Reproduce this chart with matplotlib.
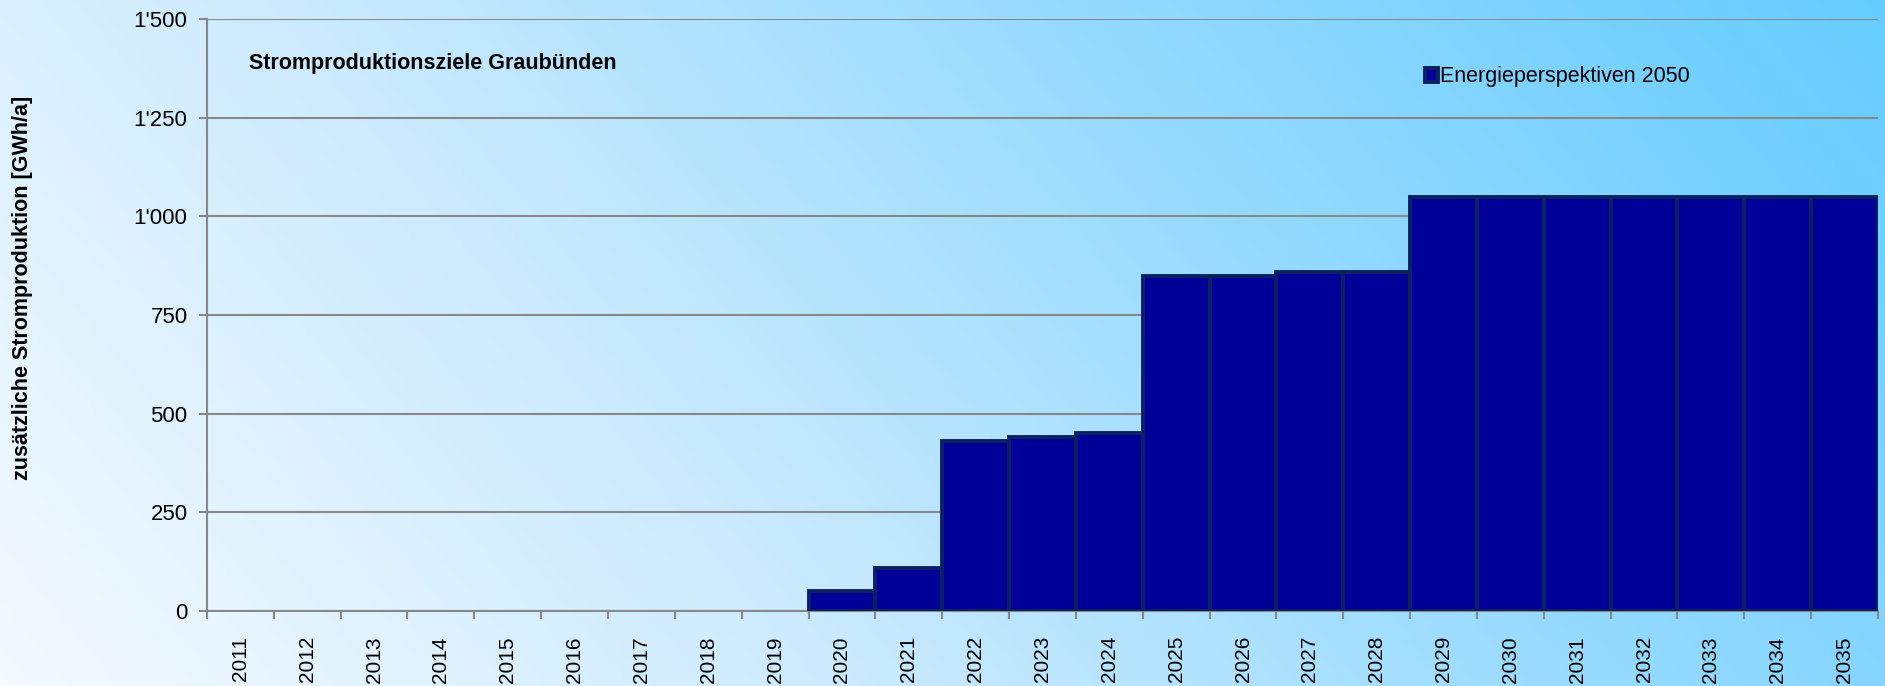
#!/usr/bin/env python3

import numpy as np
import matplotlib.pyplot as plt
from matplotlib.colors import LinearSegmentedColormap
from matplotlib.ticker import FuncFormatter, MultipleLocator

# Data
years = [str(y) for y in range(2011, 2036)]
values = [0, 0, 0, 0, 0, 0, 0, 0, 0,
          50, 110, 430, 440, 450, 850, 850, 860, 860,
          1050, 1050, 1050, 1050, 1050, 1050, 1050]
series_name = 'Energieperspektiven 2050'
chart_title = 'Stromproduktionsziele Graubünden'
y_label = 'zusätzliche Stromproduktion [GWh/a]'

plt.rcParams['font.family'] = ['Liberation Sans', 'DejaVu Sans']

fig = plt.figure(figsize=(18.85, 6.86), dpi=100)

# gradient background (light bottom-left to blue top-right)
bg = fig.add_axes([0, 0, 1, 1], zorder=-10)
xx, yy = np.meshgrid(np.linspace(0, 1, 400), np.linspace(0, 1, 200))
t = np.clip(0.85 * xx + 0.25 * yy, 0, 1.1) / 1.1
cmap = LinearSegmentedColormap.from_list('bg', ['#f4faff', '#cdebfd', '#95dafe', '#66ccff'])
bg.imshow(t, cmap=cmap, aspect='auto', origin='lower', extent=[0, 1, 0, 1])
bg.axis('off')

ax = fig.add_axes([0.1098, 0.1093, 0.8865, 0.8627])
ax.patch.set_alpha(0)

x = np.arange(len(years))
vals = np.array(values)
shown = vals > 0  # empty years draw nothing
ax.bar(x[shown], vals[shown], width=1.0, color='#000099', edgecolor='#0b2160',
       linewidth=2.8, label=series_name, zorder=3)

ax.set_xlim(-0.5, len(years) - 0.5)
ax.set_ylim(0, 1500)
ax.yaxis.set_major_locator(MultipleLocator(250))
ax.yaxis.set_major_formatter(FuncFormatter(lambda v, p: f"{int(v):,}".replace(',', "'")))
ax.grid(axis='y', color='#888888', linewidth=1.5, zorder=0)

ax.set_xticks(x)
ax.set_xticklabels(years, rotation=90, fontsize=15)
ax.set_xticks(np.arange(-0.5, len(years), 1), minor=True)
ax.tick_params(axis='x', which='major', length=0, pad=18)
ax.tick_params(axis='x', which='minor', length=6, width=1.5, color='#888888', direction='out')
ax.tick_params(axis='y', length=6, width=1.5, color='#888888', labelsize=16, pad=8)

for s in ['top', 'right']:
    ax.spines[s].set_visible(False)
for s in ['left', 'bottom']:
    ax.spines[s].set_color('#888888')
    ax.spines[s].set_linewidth(1.5)

ax.text(0.025, 0.925, chart_title, transform=ax.transAxes, fontsize=15.5,
        fontweight='bold', va='center', ha='left')

fig.text(0.012, 0.58, y_label, rotation=90, fontsize=15.5, fontweight='bold',
         va='center', ha='center')

ax.legend(loc='upper left', bbox_to_anchor=(0.724, 0.935), frameon=False,
          fontsize=15.5, handlelength=0.6, handleheight=0.6, handletextpad=0.1,
          borderaxespad=0)

fig.savefig('out.png', dpi=100)
